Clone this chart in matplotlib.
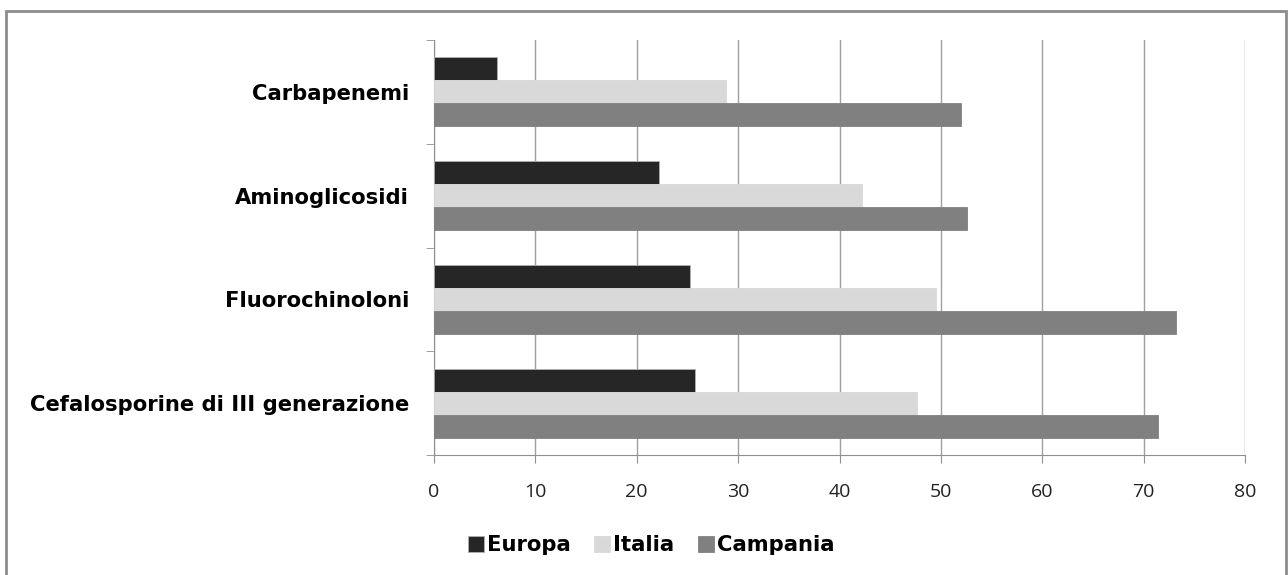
#!/usr/bin/env python3

#Horizontal grouped bar chart: resistance (%) by antibiotic class, Europa vs Italia vs Campania

#Import necessary libraries
import numpy as np
import matplotlib.pyplot as plt
from matplotlib.patches import Rectangle

###########################
########## DATA ###########
###########################

#Categories from bottom to top
categories = ["Cefalosporine di III generazione", "Fluorochinoloni", "Aminoglicosidi", "Carbapenemi"]

#Series values (%)
europa = [25.7, 25.3, 22.2, 6.2]
italia = [47.6, 49.5, 42.2, 28.8]
campania = [71.4, 73.2, 52.6, 52.0]

series_names = ["Europa", "Italia", "Campania"]
series_colors = ["#262626", "#d9d9d9", "#808080"]
x_ticks = [0, 10, 20, 30, 40, 50, 60, 70, 80]

###########################
########### PLOT ##########
###########################

plt.rcParams["font.family"] = ["Open Sans", "DejaVu Sans"]
label_font = {"family": "DejaVu Sans", "weight": "bold", "size": 15.2}

fig = plt.figure(figsize=(12.88, 5.75), dpi=100)
ax = fig.add_axes([434 / 1288, 1 - 455 / 575, (1245 - 434) / 1288, (455 - 40) / 575])

#Outer chart border (bottom edge runs off the picture)
fig.patches.append(Rectangle((6 / 1288, -10 / 575), 1280 / 1288, 574 / 575,
                             transform=fig.transFigure, fill=False,
                             edgecolor="#8c8c8c", linewidth=2.0))

y_pos = np.arange(len(categories))
bar_h = 0.222

#Europa on top of each group, Campania at the bottom
for i, (values, name, color) in enumerate(zip([europa, italia, campania], series_names, series_colors)):
    ax.barh(y_pos + (1 - i) * bar_h, values, height=bar_h, color=color,
            edgecolor="#b0b0b0" if i == 0 else color, linewidth=0.6,
            label=name, zorder=3)

#Axes limits and ticks
ax.set_xlim(0, 80)
ax.set_ylim(-0.5, len(categories) - 0.5)
ax.set_xticks(x_ticks)
ax.set_xticklabels([str(t) for t in x_ticks], fontsize=14, color="#222222")

ax.set_yticks(y_pos)
ax.set_yticklabels(categories, fontdict=label_font)
ax.set_yticks(np.arange(len(categories) + 1) - 0.5, minor=True)
ax.tick_params(axis="y", which="major", length=0, pad=18)
ax.tick_params(axis="y", which="minor", length=6, color="#909090", direction="out")
ax.tick_params(axis="x", length=6, color="#909090", pad=14, direction="out")

#Gridlines and spines
ax.grid(axis="x", color="#a0a0a0", linewidth=1.0, zorder=0)
ax.spines["top"].set_visible(False)
ax.spines["right"].set_visible(False)
ax.spines["left"].set_color("#909090")
ax.spines["bottom"].set_color("#909090")

#Legend
ax.legend(loc="center", bbox_to_anchor=(0.268, -0.218), ncol=3, frameon=False,
          prop=label_font, handlelength=0.75, handleheight=0.75,
          handletextpad=0.15, columnspacing=1.1)

#Save plot
fig.savefig("out.png", dpi=100)
plt.close(fig)
